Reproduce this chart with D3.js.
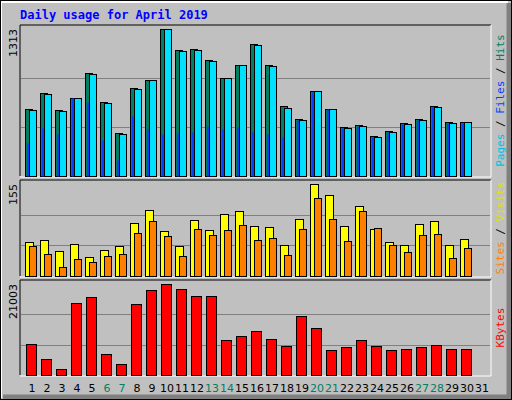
<!DOCTYPE html><html><head><meta charset="utf-8"><script src="https://cdn.jsdelivr.net/npm/d3@7"></script>
<style>body{margin:0;background:#fff}svg{display:block}</style></head><body><script>
const days=d3.range(1,32);
const weekend=[6,7,13,14,20,21,27,28];
const hits=[598,741,590,697,920,661,384,786,857,1313,1125,1134,1036,875,991,1179,991,625,509,759,598,438,455,357,402,473,509,625,482,482];
const files=[588,731,580,697,910,651,374,776,857,1313,1115,1124,1026,875,991,1169,981,605,499,759,598,428,445,347,392,463,499,615,472,482];
const pages=[295,429,375,697,661,322,143,536,420,375,384,393,447,420,438,393,375,348,500,750,598,429,447,348,393,465,500,616,473,473];
const visits=[57,60,42,54,32,43,50,89,111,76,50,94,77,104,109,84,82,52,96,155,136,84,118,79,57,52,87,92,52,62];
const sites=[50,37,15,28,23,33,37,72,92,67,33,79,69,77,86,60,64,35,79,131,96,59,109,81,52,40,69,70,30,47];
const kbytes=[7155,3693,1385,16618,18003,4847,2539,16387,19618,21003,19849,18233,18233,8078,9001,10155,8309,6693,13617,10848,5770,6463,8078,6693,5770,6001,6463,6924,6001,6001];
const W=512,H=400;
const svg=d3.select("body").append("svg").attr("width",W).attr("height",H);
svg.append("rect").attr("width",W).attr("height",H).attr("fill","#c0c0c0");
svg.append("path").attr("d","M0,0H512").attr("stroke","#000").attr("stroke-width",1);
svg.append("path").attr("d","M1,398V2H508").attr("stroke","#fff").attr("stroke-width",2).attr("fill","none");
svg.append("path").attr("d","M509,3V397H3").attr("stroke","#808080").attr("stroke-width",5).attr("fill","none");
svg.append("rect").attr("x",0.5).attr("y",0.5).attr("width",W-1).attr("height",H-1).attr("fill","none").attr("stroke","#000");
svg.append("text").attr("x",20).attr("y",19).text("Daily usage for April 2019").attr("fill","#0000ff")
 .attr("font-family","DejaVu Sans Mono").attr("font-weight","bold").attr("font-size",12);
const x=d3.scaleBand().domain(days).range([24,489]);
const L=20,R=491;
function panel(y0,y1,max,label,parts){
  svg.append("path").attr("d",`M${L},${y1}V${y0}H${R}`).attr("stroke","#000").attr("fill","none");
  svg.append("path").attr("d",`M${R},${y0}V${y1+1}H${L}`).attr("stroke","#fff").attr("fill","none");
  const y=d3.scaleLinear().domain([0,max]).range([y1,y0+4]);
  [1/3,2/3].forEach(f=>{const gy=Math.round(y1-(y1-y0-4)*f)+0.5;
    svg.append("line").attr("x1",L+1).attr("x2",R-1).attr("y1",gy).attr("y2",gy).attr("stroke","#808080");});
  svg.append("text").attr("transform",`translate(17,${y0+4}) rotate(-90)`).attr("text-anchor","end")
   .attr("font-family","DejaVu Sans").attr("font-size",11).text(label);
  const t=svg.append("text").attr("transform",`translate(504,${(y0+y1)/2}) rotate(-90)`).attr("text-anchor","middle")
   .attr("font-family","DejaVu Sans Mono").attr("font-size",11);
  parts.forEach(p=>t.append("tspan").attr("fill",p[1]).text(p[0]));
  return y;
}
function bars(y,data,off,w,col,stroke=true){
  svg.append("g").selectAll("rect").data(data).join("rect")
   .attr("x",(d,i)=>x(i+1)+off+0.5).attr("y",d=>Math.round(y(d))+0.5).attr("width",w)
   .attr("height",d=>Math.max(0,y.range()[0]-Math.round(y(d))))
   .attr("fill",col).attr("stroke",stroke?"#000":"none");
}
const y1=panel(25,176,1313,"1313",[["Pages","#00c0e0"],[" / ","#000"],["Files","#0040ff"],[" / ","#000"],["Hits","#008060"]]);
bars(y1,hits,1,7,"#008060");bars(y1,files,5,7,"#00e0ff");bars(y1,pages,2.5,2,"#0040ff",false);
const y2=panel(180,276,155,"155",[["Sites","#ff8000"],[" / ","#000"],["Visits","#e0e000"]]);
bars(y2,visits,1,8,"#ffff00");bars(y2,sites,5,7,"#ff8000");
const y3=panel(280,375,21003,"21003",[["KBytes","#ff0000"]]);
bars(y3,kbytes,2,10,"#ff0000");
svg.append("g").selectAll("text").data(days).join("text").attr("x",d=>x(d)+8).attr("y",392)
 .attr("text-anchor","middle").attr("font-family","DejaVu Sans").attr("font-size",11)
 .attr("fill",d=>weekend.includes(d)?"#008060":"#000").text(d=>d);
</script></body></html>
